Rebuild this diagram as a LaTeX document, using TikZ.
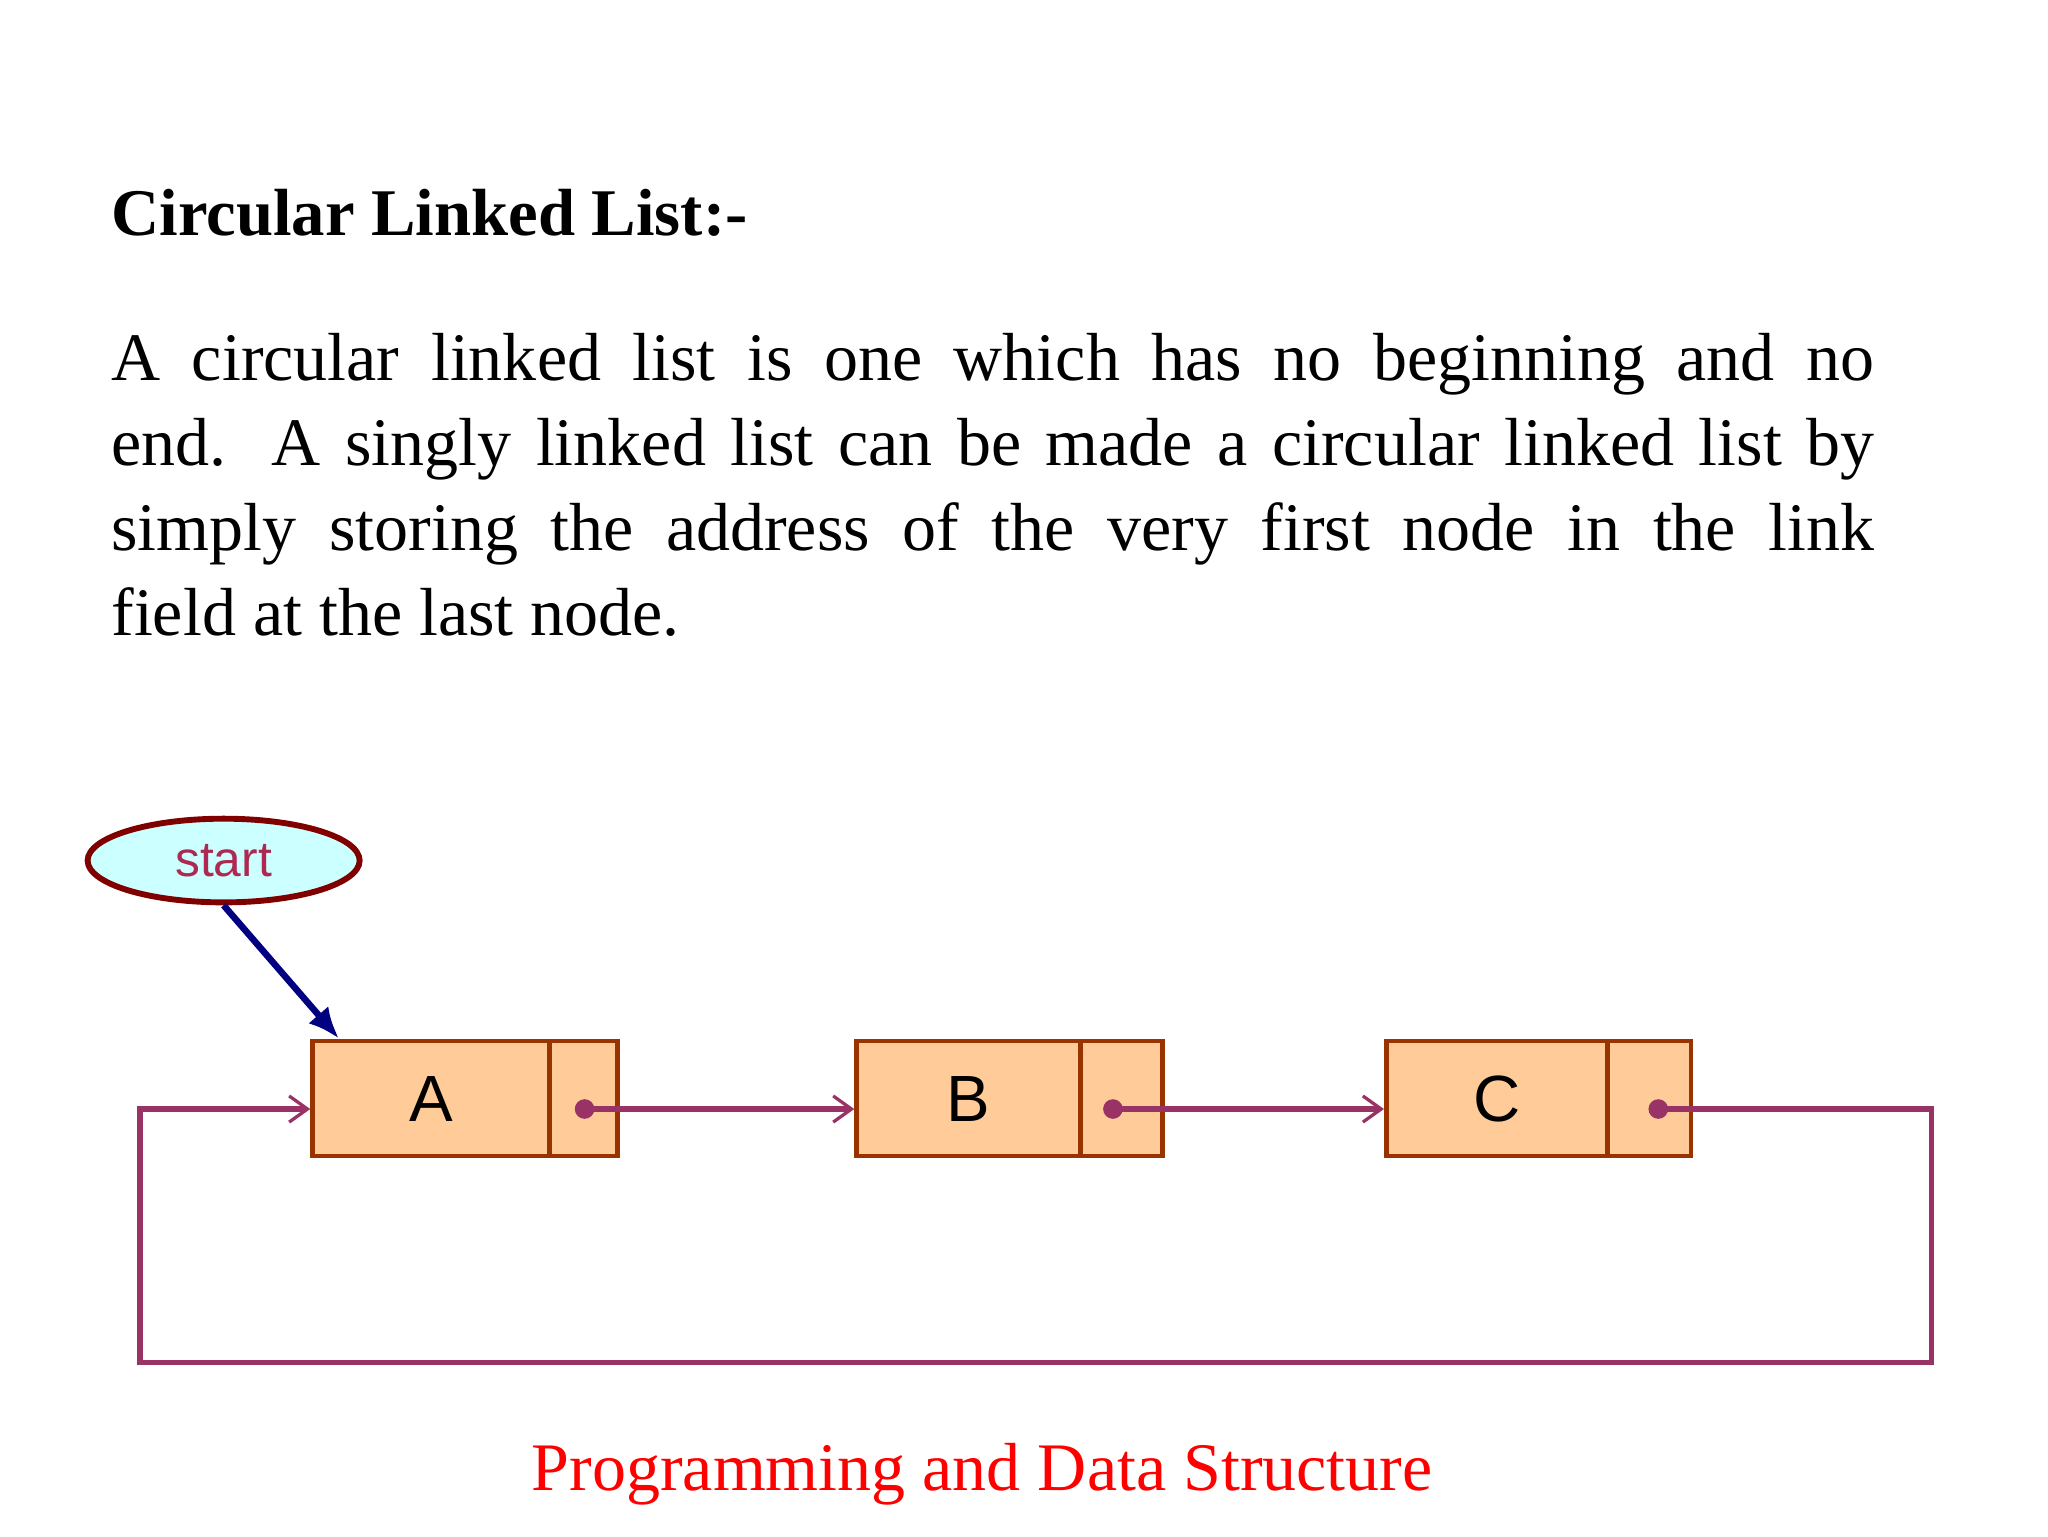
\documentclass[tikz,border=0pt]{standalone}
\usepackage{fontspec}
\setmainfont{Liberation Serif}
\newfontfamily\sansf{Liberation Sans}
\usetikzlibrary{shapes.geometric,arrows.meta}
\definecolor{boxfill}{RGB}{255,204,153}
\definecolor{boxline}{RGB}{153,51,0}
\definecolor{linkc}{RGB}{153,51,102}
\definecolor{startfill}{RGB}{204,255,255}
\definecolor{startline}{RGB}{128,0,0}
\definecolor{navyc}{RGB}{0,0,128}
\tikzset{
 x=1pt,y=1pt,
 datapart/.style={draw=boxline,fill=boxfill,line width=3.5pt,minimum height=88pt,inner sep=0pt,font=\sansf\fontsize{50}{50}\selectfont},
 ptrpart/.style={datapart,minimum width=52pt},
 link/.style={linkc,line width=4pt,-{Straight Barb[length=14pt,width=20pt,line width=2.5pt]}},
 dot/.style={circle,fill=linkc,inner sep=0pt,minimum size=15pt}
}
\begin{document}
\begin{tikzpicture}
\useasboundingbox (0,0) rectangle (1566,-1175);
\node[anchor=base west,inner sep=0pt,font=\bfseries\fontsize{51}{56}\selectfont] (title) at (85,-180) {Circular Linked List:-};
\node[anchor=north west,text width=1348pt,align=justify,inner sep=0pt,font=\fontsize{52}{65}\selectfont] (para) at (85,-255)
{A circular linked list is one which has no beginning and no\linebreak end. A singly linked list can be made a circular linked list by\linebreak simply storing the address of the very first node in the link\linebreak field at the last node.};
\node[ellipse,draw=startline,fill=startfill,line width=4.5pt,minimum width=208pt,minimum height=64pt,text=linkc!80!red,font=\sansf\fontsize{38}{38}\selectfont] (start) at (171,-658) {start};
% nodes
\node[datapart,minimum width=181pt] (A) at (329.5,-840) {A};
\node[ptrpart] (Ap) at (446,-840) {};
\node[datapart,minimum width=171pt] (B) at (740.5,-840) {B};
\node[ptrpart,minimum width=63pt] (Bp) at (857.5,-840) {};
\node[datapart,minimum width=169pt] (C) at (1144.5,-840) {C};
\node[ptrpart,minimum width=64pt] (Cp) at (1261,-840) {};
\node[dot] (dA) at (447,-848) {};
\node[dot] (dB) at (851,-848) {};
\node[dot] (dC) at (1268,-848) {};
\coordinate (tgt) at ([xshift=22pt]A.north west);
\draw[navyc,line width=5pt,-{Latex[length=24pt,width=20pt]}] (start.south) -- (tgt);
\draw[link] (dA.center) -- (B.west |- dA);
\draw[link] (dB.center) -- (C.west |- dB);
\coordinate (r) at (1477,-848);
\coordinate (l) at (107,-848);
\draw[link] (dC.center) -- (r) -- ++(0,-194) -| (l) -- (A.west |- l);
\node[anchor=base,text=red,inner sep=0pt,font=\fontsize{52}{56}\selectfont] (foot) at (751,-1140) {Programming and Data Structure};
\end{tikzpicture}
\end{document}
